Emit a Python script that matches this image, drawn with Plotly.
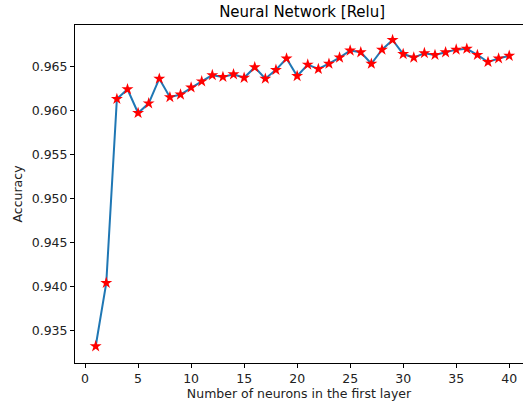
import plotly.graph_objects as go

neurons = list(range(1, 41))
accuracy = [0.9332, 0.9404, 0.9613, 0.9624, 0.9597, 0.9608, 0.9636, 0.9615, 0.9618, 0.9626,
            0.9633, 0.9640, 0.9638, 0.9641, 0.9637, 0.9649, 0.9636, 0.9646, 0.9659, 0.9639,
            0.9652, 0.9647, 0.9653, 0.9660, 0.9668, 0.9666, 0.9653, 0.9669, 0.9680, 0.9664,
            0.9660, 0.9665, 0.9663, 0.9666, 0.9669, 0.9670, 0.9663, 0.9655, 0.9659, 0.9662]
x_ticks = [0, 5, 10, 15, 20, 25, 30, 35, 40]
y_ticks = [0.935, 0.940, 0.945, 0.950, 0.955, 0.960, 0.965]

font = "DejaVu Sans"
fig = go.Figure()
fig.add_trace(go.Scatter(
    x=neurons, y=accuracy, mode="lines+markers",
    line=dict(color="#1f77b4", width=2),
    marker=dict(symbol="star", color="red", size=9, line=dict(width=0)),
))
fig.update_layout(
    width=523, height=408,
    margin=dict(l=75, r=0, t=25, b=45, autoexpand=False),
    paper_bgcolor="white", plot_bgcolor="white",
    showlegend=False,
    font=dict(family=font, color="#222222", size=12.5),
    title=dict(text="Neural Network [Relu]", x=0.507, xref="paper", xanchor="center",
               y=0.97, yref="container", yanchor="middle", font=dict(size=15, family=font, color="black")),
)
fig.update_xaxes(
    range=[-0.95, 41.3], tickvals=x_ticks, ticktext=[str(t) for t in x_ticks],
    showgrid=False, zeroline=False, showline=True, linecolor="black", linewidth=1,
    mirror=True, ticks="outside", ticklen=4, tickcolor="black", automargin=False,
    title=dict(text="Number of neurons in the first layer", standoff=4, font=dict(size=12.5)),
)
fig.update_yaxes(
    range=[0.9313, 0.9697], tickvals=y_ticks, ticktext=[f"{t:.3f}" for t in y_ticks],
    showgrid=False, zeroline=False, showline=True, linecolor="black", linewidth=1,
    mirror=False, ticks="outside", ticklen=4, tickcolor="black", automargin=False,
    title=dict(text="Accuracy", standoff=6, font=dict(size=12.5)),
)
fig.write_html("out.html", config={"displayModeBar": False},
               post_script="document.body.style.margin='0';document.body.style.overflow='hidden';")
